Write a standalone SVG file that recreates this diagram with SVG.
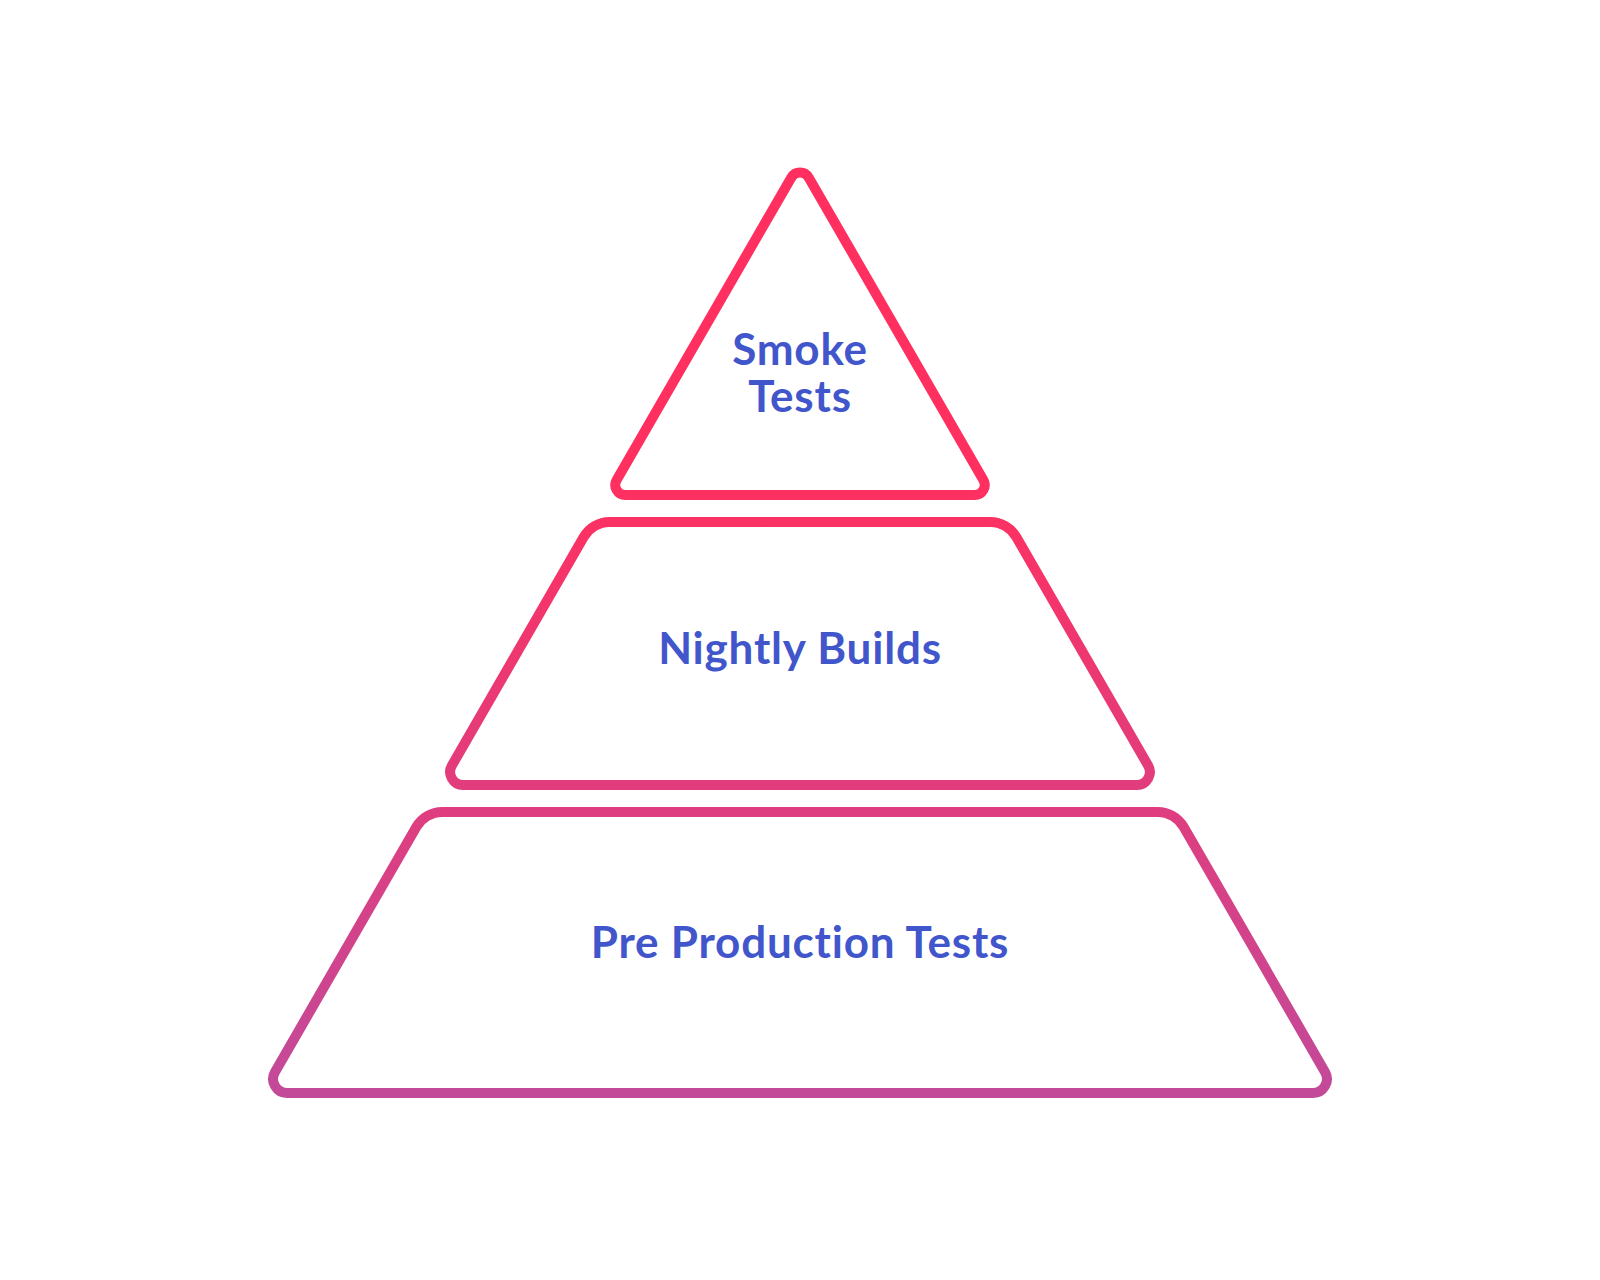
<svg xmlns="http://www.w3.org/2000/svg" width="1600" height="1280" viewBox="0 0 1600 1280">
  <defs>
    <linearGradient id="edge" gradientUnits="userSpaceOnUse" x1="0" y1="480" x2="0" y2="1100">
      <stop offset="0" stop-color="#FF3060"/>
      <stop offset="1" stop-color="#C24A9A"/>
    </linearGradient>
  </defs>
  <style>
    .layer { fill: #FFFFFF; stroke: url(#edge); stroke-width: 10; stroke-linejoin: round; }
    .label { font-family: "Lato", "Liberation Sans", sans-serif; font-weight: 700; font-size: 44px; letter-spacing: 0.8px; fill: #4256CC; text-anchor: middle; }
  </style>
  <rect width="1600" height="1280" fill="#FFFFFF"/>
  <g id="connectors"></g>
  <g id="smoke-tests">
    <path class="layer" d="M 800 495 L 625.3 495 A 10 10 0 0 1 616.65 480 L 791.35 177.4 A 10 10 0 0 1 808.65 177.4 L 983.35 480 A 10 10 0 0 1 974.7 495 Z"/>
    <text class="label" x="800" y="365" letter-spacing="1.8">Smoke</text>
    <text class="label" x="800" y="412" letter-spacing="1.8">Tests</text>
  </g>
  <g id="nightly-builds">
    <path class="layer" d="M 800 785 L 463.1 785 A 13 13 0 0 1 451.9 765.5 L 583.7 537 A 30 30 0 0 1 609.7 522 L 990.3 522 A 30 30 0 0 1 1016.3 537 L 1148.1 765.5 A 13 13 0 0 1 1136.9 785 Z"/>
    <text class="label" x="800" y="664">Nightly Builds</text>
  </g>
  <g id="pre-production-tests">
    <path class="layer" d="M 800 1093 L 287.2 1093 A 14 14 0 0 1 275.0 1072 L 416.3 827 A 30 30 0 0 1 442.3 812 L 1157.7 812 A 30 30 0 0 1 1183.7 827 L 1325.0 1072 A 14 14 0 0 1 1312.8 1093 Z"/>
    <text class="label" x="800" y="958">Pre Production Tests</text>
  </g>
</svg>
